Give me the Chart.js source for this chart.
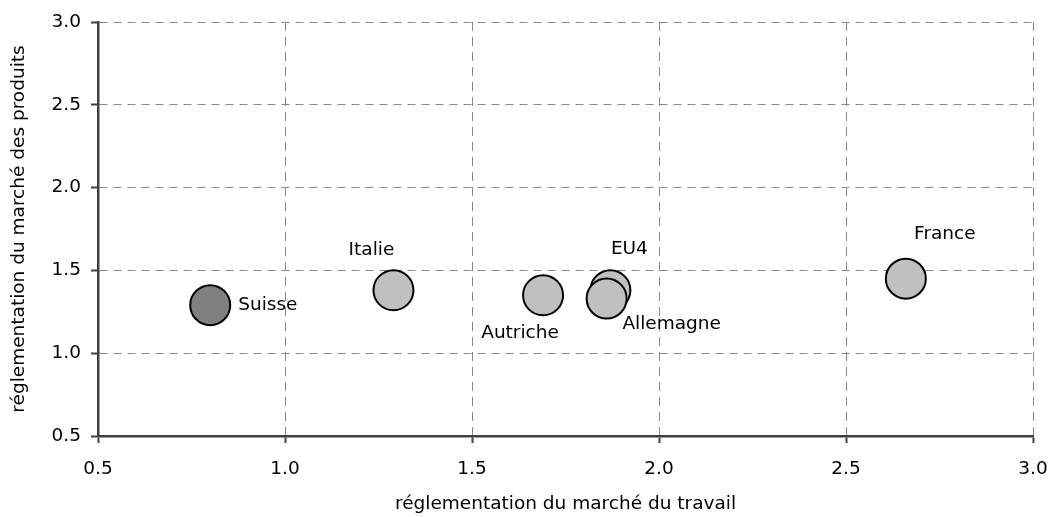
<!DOCTYPE html>
<html>
<head>
<meta charset="utf-8">
<script src="https://cdn.jsdelivr.net/npm/chart.js@4"></script>
<style>
  html, body { margin: 0; padding: 0; background: #fff; }
  #wrap { width: 1056px; height: 517px; }
</style>
</head>
<body>
<div id="wrap"><canvas id="chart" width="1056" height="517"></canvas></div>
<script>
// data
const countries = ['Suisse', 'Italie', 'Autriche', 'EU4', 'Allemagne', 'France'];
const labourReg = [0.80, 1.29, 1.69, 1.87, 1.86, 2.66];   // x
const productReg = [1.29, 1.38, 1.35, 1.38, 1.33, 1.45];  // y
const axisTicks = [0.5, 1.0, 1.5, 2.0, 2.5, 3.0];

// label placement relative to each bubble (pixels)
const labelOffsets = {
  'Suisse':    { dx: 28,  dy: 0,   align: 'left' },
  'Italie':    { dx: -22, dy: -40, align: 'center' },
  'Autriche':  { dx: -23, dy: 38,  align: 'center' },
  'EU4':       { dx: 19,  dy: -41, align: 'center' },
  'Allemagne': { dx: 65,  dy: 26,  align: 'center' },
  'France':    { dx: 39,  dy: -44, align: 'center' }
};

const FONT = 'DejaVu Sans';
const FSIZE = 18.5;

const points = countries.map((c, i) => ({ x: labourReg[i], y: productReg[i], name: c }));

const pointLabels = {
  id: 'pointLabels',
  afterDatasetsDraw(chart) {
    const ctx = chart.ctx;
    const meta = chart.getDatasetMeta(0);
    ctx.save();
    ctx.font = FSIZE + 'px "' + FONT + '"';
    ctx.fillStyle = '#000';
    ctx.textBaseline = 'middle';
    meta.data.forEach((el, i) => {
      const name = countries[i];
      const o = labelOffsets[name];
      ctx.textAlign = o.align;
      ctx.fillText(name, el.x + o.dx, el.y + o.dy);
    });
    ctx.restore();
  }
};

new Chart(document.getElementById('chart'), {
  type: 'scatter',
  data: {
    datasets: [{
      data: points,
      pointRadius: 20,
      pointBorderWidth: 2,
      pointBorderColor: '#000',
      pointBackgroundColor: countries.map(c => c === 'Suisse' ? '#808080' : '#c0c0c0')
    }]
  },
  options: {
    responsive: false,
    animation: false,
    events: [],
    layout: { padding: { top: 22, right: 23, left: 0, bottom: 0 } },
    plugins: { legend: { display: false }, tooltip: { enabled: false } },
    scales: {
      x: {
        type: 'linear',
        min: axisTicks[0],
        max: axisTicks[axisTicks.length - 1],
        afterBuildTicks: s => { s.ticks = axisTicks.map(v => ({ value: v })); },
        afterFit: s => { s.height = 81; s.paddingLeft = 0; s.paddingRight = 0; },
        grid: { color: '#888', lineWidth: 1, tickColor: '#404040', tickLength: 7, tickWidth: 2 },
        border: { color: '#404040', width: 2.5, dash: [9, 6] },
        ticks: {
          padding: 15,
          color: '#000',
          font: { family: FONT, size: FSIZE },
          callback: v => v.toFixed(1)
        },
        title: {
          display: true,
          text: 'réglementation du marché du travail',
          color: '#000',
          font: { family: FONT, size: FSIZE },
          padding: { bottom: 2, top: 0 }
        }
      },
      y: {
        type: 'linear',
        min: axisTicks[0],
        max: axisTicks[axisTicks.length - 1],
        afterBuildTicks: s => { s.ticks = axisTicks.map(v => ({ value: v })); },
        afterFit: s => { s.width = 98; },
        grid: { color: '#888', lineWidth: 1, tickColor: '#404040', tickLength: 7, tickWidth: 2 },
        border: { color: '#404040', width: 2.5, dash: [8, 6] },
        ticks: {
          padding: 10,
          color: '#000',
          font: { family: FONT, size: FSIZE },
          callback: v => v.toFixed(1)
        },
        title: {
          display: true,
          text: 'réglementation du marché des produits',
          color: '#000',
          font: { family: FONT, size: FSIZE },
          padding: { top: 8, bottom: 0 }
        }
      }
    }
  },
  plugins: [pointLabels]
});
</script>
</body>
</html>
